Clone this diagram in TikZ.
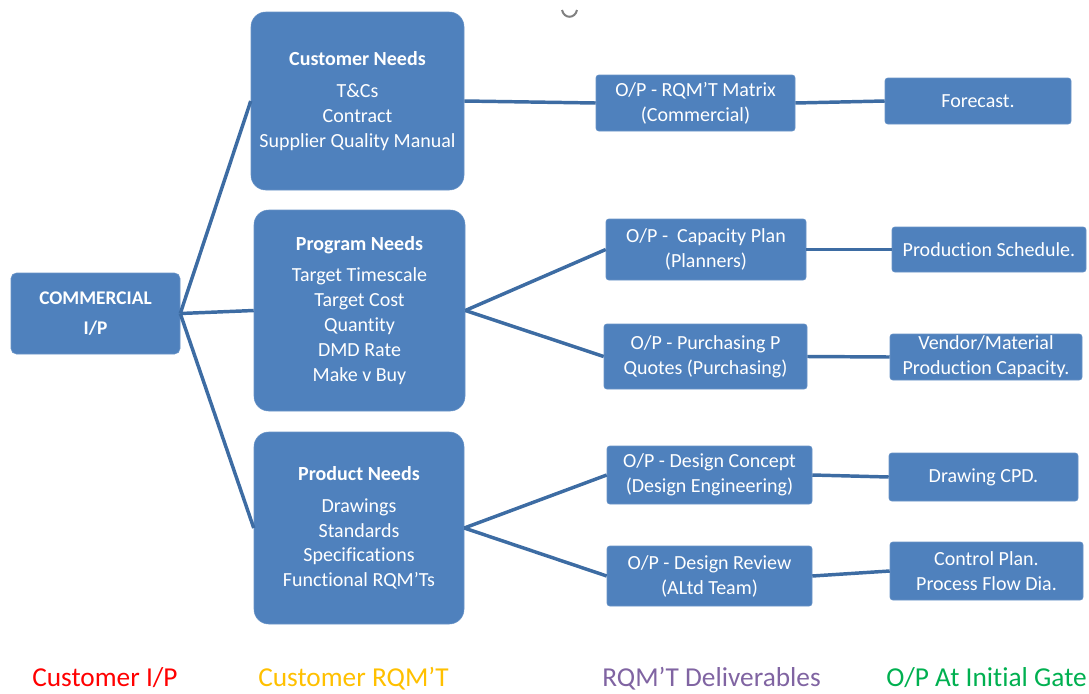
\documentclass[tikz,border=0pt]{standalone}
\usepackage{fontspec}
\setmainfont[Ligatures=NoCommon]{Carlito}
\usetikzlibrary{positioning}

\definecolor{boxblue}{HTML}{4F81BD}
\definecolor{lineblue}{HTML}{3D6CA3}
\definecolor{legred}{HTML}{FF0000}
\definecolor{legyellow}{HTML}{FFC000}
\definecolor{legpurple}{HTML}{8064A2}
\definecolor{leggreen}{HTML}{00B050}

\tikzset{
  needs/.style={fill=boxblue, draw=boxblue!85!white, rounded corners=11pt, text=white,
    align=center, inner sep=0pt, font=\fontsize{15}{18.7}\selectfont},
  output/.style={needs, rounded corners=2pt},
  size/.style 2 args={minimum width=#1, minimum height=#2},
  link/.style={draw=lineblue, line width=2.6pt},
  legend/.style={anchor=base west, inner sep=0pt, font=\fontsize{20.5}{24}\selectfont},
}

\begin{document}
\begin{tikzpicture}[x=0.75pt, y=-0.75pt]

      \useasboundingbox (0,0) rectangle (1089,693);

      % Define nodes
      \node[needs, size={126.75pt}{60.75pt}, rounded corners=4pt, font=\fontsize{14.5}{22.5}\selectfont\bfseries]
                                         (com) at (95.5,313.5) {COMMERCIAL\\I/P};

      \node[needs, size={159.75pt}{133.5pt}] (cust) at (357.5,101)
            {\textbf{Customer Needs}\\[5pt] T\&Cs\\Contract\\Supplier Quality Manual};
      \node[needs, size={158.25pt}{150.75pt}] (prog) at (359.5,310.5)
            {\textbf{Program Needs}\\[5pt] Target Timescale\\Target Cost\\Quantity\\DMD Rate\\Make v Buy};
      \node[needs, size={157.5pt}{144pt}]     (prod) at (359,528)
            {\textbf{Product Needs}\\[5pt] Drawings\\Standards\\Specifications\\Functional RQM’Ts};

      \node[output, size={149.25pt}{42pt}]    (matrix)  at (695.5,103) {O/P - RQM’T Matrix\\(Commercial)};
      \node[output, size={150pt}{45.75pt}]    (cap)     at (706,249.5) {O/P -\ \ Capacity Plan\\(Planners)};
      \node[output, size={152.25pt}{48.75pt}] (purch)   at (705.5,356.5) {O/P - Purchasing P\\Quotes (Purchasing)};
      \node[output, size={153.75pt}{43.5pt}]  (concept) at (709.5,475) {O/P - Design Concept\\(Design Engineering)};
      \node[output, size={153.75pt}{45pt}]    (review)  at (709.5,576) {O/P - Design Review\\(ALtd Team)};

      \node[output, size={139.5pt}{34.5pt}]   (forecast) at (978,101) {Forecast.};
      \node[output, size={145.5pt}{33.75pt}]  (sched)    at (989,249.5) {Production Schedule.};
      \node[output, size={144pt}{34.5pt}]     (vendor)   at (986,357) {Vendor/Material\\Production Capacity.};
      \node[output, size={141.75pt}{36pt}]    (cpd)      at (983.5,477) {Drawing CPD.};
      \node[output, size={144.75pt}{43.5pt}]  (control)  at (986.5,571) {Control Plan.\\Process Flow Dia.};

      % Connect the nodes
      \foreach \to in {cust,prog,prod}
        \draw[link] (com.east) -- (\to.west);
      \draw[link] (cust.east) -- (matrix.west);
      \draw[link] (prog.east) -- (cap.west);
      \draw[link] (prog.east) -- (purch.west);
      \draw[link] (prod.east) -- (concept.west);
      \draw[link] (prod.east) -- (review.west);
      \draw[link] (matrix.east)  -- (forecast.west);
      \draw[link] (cap.east)     -- (sched.west);
      \draw[link] (purch.east)   -- (vendor.west);
      \draw[link] (concept.east) -- (cpd.west);
      \draw[link] (review.east)  -- (control.west);

      % Legend
      \node[legend, text=legred]    (leg-in)   at (32,686)  {Customer I/P};
      \node[legend, text=legyellow] (leg-rqmt) at (258,686) {Customer RQM’T};
      \node[legend, text=legpurple] (leg-del)  at (602,686) {RQM’T Deliverables};
      \node[legend, text=leggreen, anchor=base east] (leg-out) at (1087,686) {O/P At Initial Gate};

      % small mark at the top
      \draw[gray, line width=1.5pt] (562,10) .. controls (564,19) and (575,19) .. (577,10);

\end{tikzpicture}
\end{document}
